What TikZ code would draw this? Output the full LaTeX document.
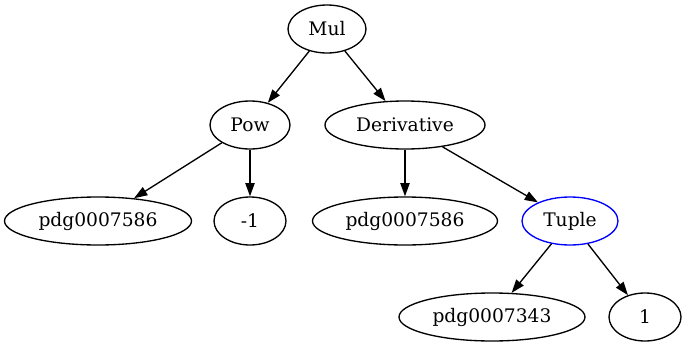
\documentclass[tikz,border=0pt]{standalone}
\usepackage{fontspec}
\setmainfont{DejaVu Serif}
\usetikzlibrary{shapes.geometric,arrows.meta}
\begin{document}
\begin{tikzpicture}[x=0.75pt,y=-0.75pt,
  gnode/.style={ellipse,draw,line width=1pt,inner sep=0pt,minimum height=36pt,font=\fontsize{14}{17}\selectfont},
  edge/.style={line width=1pt,-{Triangle[length=10pt,width=7pt]}}]
\useasboundingbox (0,0) rectangle (687,347);
\node[gnode,minimum width=78*0.75pt] (mul) at (327,29) {Mul};
\node[gnode,minimum width=80*0.75pt] (pow) at (250,125) {Pow};
\node[gnode,minimum width=160*0.75pt] (der) at (405,125) {Derivative};
\node[gnode,minimum width=187*0.75pt] (p1) at (98,221) {pdg0007586};
\node[gnode,minimum width=72*0.75pt] (m1) at (250,221) {-1};
\node[gnode,minimum width=185*0.75pt] (p2) at (405,221) {pdg0007586};
\node[gnode,draw=blue,minimum width=96*0.75pt] (tup) at (570,221) {Tuple};
\node[gnode,minimum width=186*0.75pt] (p3) at (492,317) {pdg0007343};
\node[gnode,minimum width=72*0.75pt] (one) at (645,317) {1};
\draw[edge] (mul) -- (pow);
\draw[edge] (mul) -- (der);
\draw[edge] (pow) -- (p1);
\draw[edge] (pow) -- (m1);
\draw[edge] (der) -- (p2);
\draw[edge] (der) -- (tup);
\draw[edge] (tup) -- (p3);
\draw[edge] (tup) -- (one);
\end{tikzpicture}
\end{document}
